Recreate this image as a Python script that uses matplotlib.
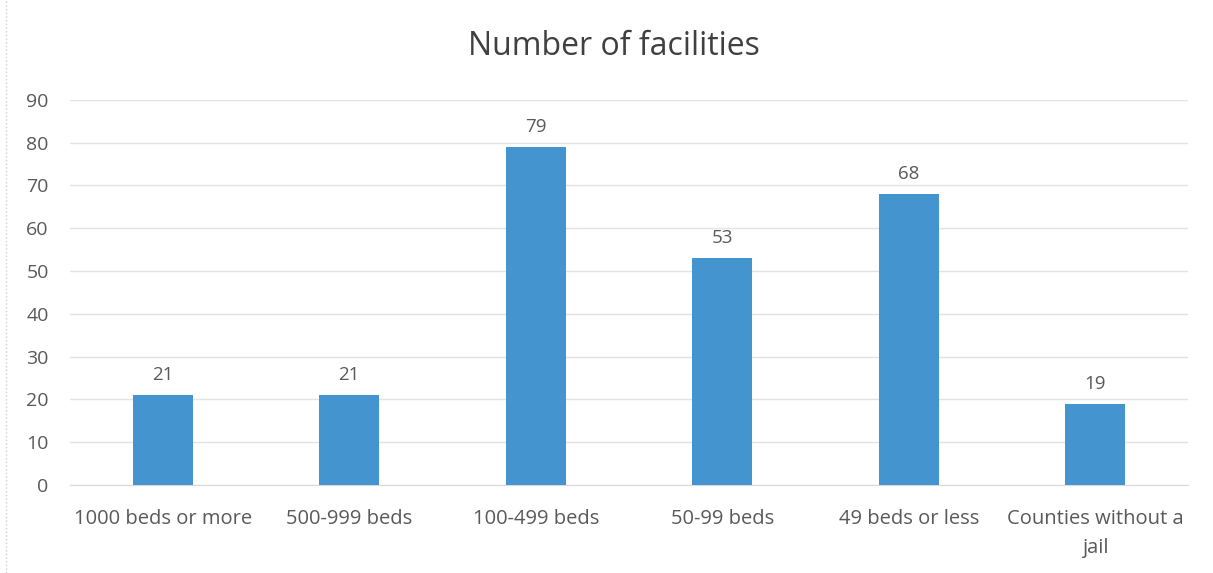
import matplotlib.pyplot as plt
import numpy as np

categories = ["1000 beds or more", "500-999 beds", "100-499 beds",
              "50-99 beds", "49 beds or less", "Counties without a\njail"]
values = [21, 21, 79, 53, 68, 19]
yticks = [0, 10, 20, 30, 40, 50, 60, 70, 80, 90]

plt.rcParams['font.family'] = ['Open Sans', 'DejaVu Sans']
txt = '#595959'

fig = plt.figure(figsize=(12.13, 5.73), dpi=100)
ax = fig.add_axes([0.0573, 0.1536, 0.9225, 0.672])

x = np.arange(len(categories))
bars = ax.bar(x, values, width=0.32, color='#4394cf', zorder=3)
for xi, v in zip(x, values):
    ax.annotate(str(v), (xi, v), xytext=(0, 8), textcoords='offset points',
                ha='center', va='bottom', fontsize=13.5, color=txt)

ax.set_xlim(-0.5, len(categories) - 0.5)
ax.set_ylim(0, 90)
ax.set_yticks(yticks)
ax.set_xticks(x)
ax.set_xticklabels(categories, fontsize=14.5, color=txt, linespacing=1.6)
ax.tick_params(axis='y', labelsize=14, labelcolor=txt, length=0, pad=15)
ax.tick_params(axis='x', length=0, pad=17)
ax.grid(axis='y', color='#e3e3e3', linewidth=1, zorder=0)
for s in ['top', 'right', 'left']:
    ax.spines[s].set_visible(False)
ax.spines['bottom'].set_color('#d9d9d9')

fig.text(0.506, 0.918, "Number of facilities", ha='center', va='center',
         fontsize=23, color='#404040')
fig.add_artist(plt.Line2D([0.005, 0.005], [0, 1], color='#d0d0d0',
                          linestyle=':', linewidth=1))

fig.savefig('out.png', dpi=100)
